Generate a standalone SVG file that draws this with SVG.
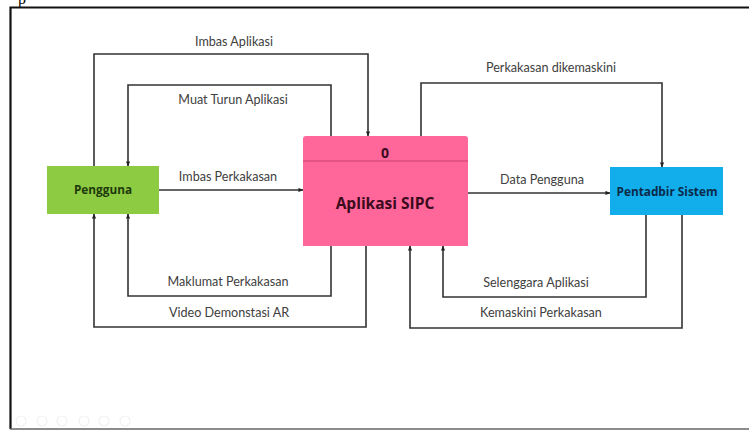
<svg xmlns="http://www.w3.org/2000/svg" width="749" height="430" viewBox="0 0 749 430">
<defs>
<marker id="ah" viewBox="0 0 6 6" refX="5.5" refY="3" markerWidth="5" markerHeight="5" markerUnits="userSpaceOnUse" orient="auto">
<path d="M0,0.5 L6,3 L0,5.5 Z" fill="#222"/>
</marker>
</defs>
<style>
.c{fill:none;stroke:#333;stroke-width:1.6;marker-end:url(#ah)}
.lbl{font-family:Lato,"Open Sans","Liberation Sans",sans-serif;font-size:12.6px;fill:#404040;text-anchor:middle}
.nt{font-family:"Open Sans",Lato,"Liberation Sans",sans-serif;font-weight:bold;text-anchor:middle}
</style>
<rect width="749" height="430" fill="#fff"/>
<text x="18" y="4" font-family="Liberation Serif,serif" font-size="16" fill="#000">p</text>
<path d="M10.5,429 L10.5,7.5 L749,7.5" fill="none" stroke="#111" stroke-width="2.2"/>
<line x1="10" y1="429" x2="749" y2="429" stroke="#666" stroke-width="1.5"/>
<g fill="none" stroke="#f1f1f1" stroke-width="1.2">
<circle cx="21" cy="421" r="5"/><circle cx="42" cy="421" r="5"/><circle cx="62" cy="421" r="5"/><circle cx="84" cy="421" r="5"/><circle cx="104" cy="421" r="5"/><circle cx="125" cy="421" r="5"/>
</g>
<g id="connectors">
<path class="c" d="M94,166 V54 H368 V136"/>
<path class="c" d="M331,136 V85 H128 V166"/>
<path class="c" d="M159,190 H303"/>
<path class="c" d="M468,193 H610"/>
<path class="c" d="M421,136 V83 H662 V167"/>
<path class="c" d="M331,246 V296 H128 V214"/>
<path class="c" d="M366,246 V327 H94 V214"/>
<path class="c" d="M646,215 V297 H443 V246"/>
<path class="c" d="M682,215 V328 H410 V246"/>
<text class="lbl" x="234" y="46">Imbas Aplikasi</text>
<text class="lbl" x="233" y="104">Muat Turun Aplikasi</text>
<text class="lbl" x="228" y="181">Imbas Perkakasan</text>
<text class="lbl" x="542" y="184">Data Pengguna</text>
<text class="lbl" x="551" y="72">Perkakasan dikemaskini</text>
<text class="lbl" x="228" y="286">Maklumat Perkakasan</text>
<text class="lbl" x="229" y="317">Video Demonstasi AR</text>
<text class="lbl" x="536" y="287">Selenggara Aplikasi</text>
<text class="lbl" x="541" y="317">Kemaskini Perkakasan</text>
</g>
<g id="pengguna">
<rect x="47" y="166" width="112" height="48" fill="#8DCB43"/>
<text class="nt" x="103" y="194" font-size="11.8" fill="#1E3A0C">Pengguna</text>
</g>
<g id="aplikasi">
<path d="M303,246 V139 Q303,136 306,136 H465 Q468,136 468,139 V246 Z" fill="#FF6699"/>
<line x1="303" y1="161" x2="468" y2="161" stroke="#C94070" stroke-width="1.2"/>
<text class="nt" x="385" y="158" font-size="14" fill="#3A0B1C">0</text>
<text class="nt" x="385" y="209" font-size="15.5" fill="#3A0B1C">Aplikasi SIPC</text>
</g>
<g id="pentadbir">
<rect x="610" y="167" width="113" height="48" fill="#12AEEC"/>
<text class="nt" x="667" y="196" font-size="11.8" fill="#0B2A4A">Pentadbir Sistem</text>
</g>
</svg>
